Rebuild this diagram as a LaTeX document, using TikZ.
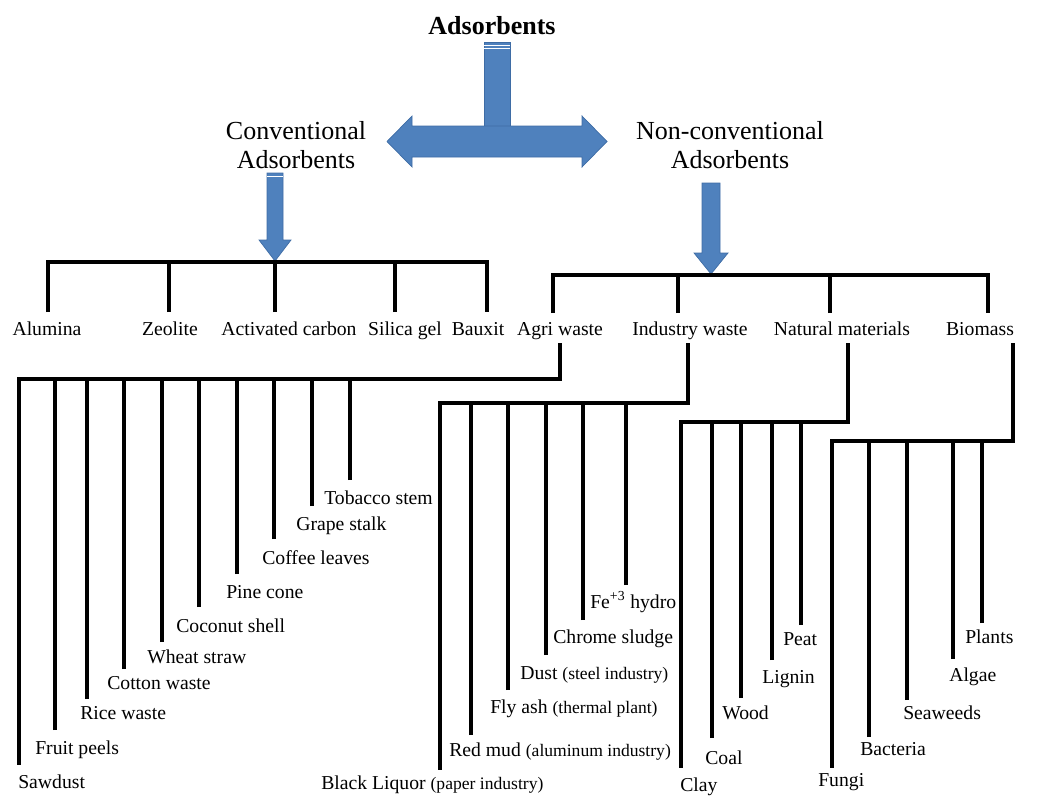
\documentclass[tikz,border=0pt]{standalone}
\usepackage{fontspec}
\setmainfont{Liberation Serif}
\usetikzlibrary{positioning}
\definecolor{arrowblue}{RGB}{79,129,189}
\definecolor{arrowedge}{RGB}{62,108,165}
\newcommand{\note}[1]{{\fontsize{12.5}{13}\selectfont(#1)}}
\tikzset{title/.style={font=\fontsize{18.5}{20}\selectfont\bfseries,inner sep=0pt}}
\tikzset{category/.style={font=\fontsize{18.5}{20.5}\selectfont,align=center,inner sep=0pt}}
\tikzset{group/.style={font=\fontsize{14}{16}\selectfont,anchor=base,inner sep=0pt}}
\tikzset{leaf/.style={font=\fontsize{14}{16}\selectfont,anchor=base west,inner sep=0pt}}
\tikzset{branch/.style={line width=2.4pt,black}}
\tikzset{blockarrow/.style={fill=arrowblue,draw=arrowedge,line width=0.5pt}}

\begin{document}
\begin{tikzpicture}[x=0.025cm,y=-0.025cm]
    \useasboundingbox (0,0) rectangle (1049,795);

    % top of the tree
    \node[title]    (adsorbents) at (492,26)  {Adsorbents};
    \node[category] (conv)       at (296,145) {Conventional\\Adsorbents};
    \node[category] (nonconv)    at (730,145) {Non-conventional\\Adsorbents};

    \filldraw[blockarrow] (484,42) rectangle (510,128);
    \draw[white,line width=0.6pt] (484,45) -- (510,45) (484,48) -- (510,48);
    \filldraw[blockarrow] (387,141.5) -- (412,116) -- (412,126) -- (582,126) -- (582,116) -- (607,141.5)
        -- (582,167) -- (582,157) -- (412,157) -- (412,167) -- cycle;
    \filldraw[blockarrow] (267,173) -- (283,173) -- (283,240) -- (291,240) -- (275,261) -- (259,240)
        -- (267,240) -- cycle;
    \draw[white,line width=0.6pt] (267,176) -- (283,176);
    \filldraw[blockarrow] (702,183) -- (720,183) -- (720,253) -- (728,253) -- (711,274) -- (694,253)
        -- (702,253) -- cycle;

    % conventional adsorbents
    \coordinate (conv-bar)      at (275,262);
    \coordinate (alumina-end)   at (48,312);
    \coordinate (zeolite-end)   at (169,312);
    \coordinate (carbon-end)    at (275,312);
    \coordinate (silica-end)    at (395,312);
    \coordinate (bauxit-end)    at (487,312);
    \draw[branch] (alumina-end) |- (bauxit-end |- conv-bar) -- (bauxit-end);
    \draw[branch] (zeolite-end) -- (zeolite-end |- conv-bar)
                  (carbon-end) -- (carbon-end |- conv-bar)
                  (silica-end) -- (silica-end |- conv-bar);

    \node[group] (alumina) at (47,335)  {Alumina};
    \node[group] (zeolite) at (170,335) {Zeolite};
    \node[group] (carbon)  at (289,335) {Activated carbon};
    \node[group] (silica)  at (405,335) {Silica gel};
    \node[group] (bauxit)  at (478,335) {Bauxit};

    % non-conventional adsorbents
    \coordinate (nonconv-bar)   at (711,275);
    \coordinate (agri-end)      at (553,313);
    \coordinate (industry-end)  at (678,313);
    \coordinate (natural-end)   at (830,313);
    \coordinate (biomass-end)   at (988,313);
    \draw[branch] (agri-end) |- (biomass-end |- nonconv-bar) -- (biomass-end);
    \draw[branch] (industry-end) -- (industry-end |- nonconv-bar)
                  (natural-end) -- (natural-end |- nonconv-bar);

    \node[group] (agri)     at (560,335) {Agri waste};
    \node[group] (industry) at (690,335) {Industry waste};
    \node[group] (natural)  at (842,335) {Natural materials};
    \node[group] (biomass)  at (980,335) {Biomass};

    % agri waste
    \coordinate (agri-low)      at (560,343);
    \coordinate (agri-bar)      at (560,379);
    \coordinate (sawdust-end)   at (19,765);
    \coordinate (fruit-end)     at (55,730);
    \coordinate (rice-end)      at (87,699);
    \coordinate (cotton-end)    at (124,669);
    \coordinate (wheat-end)     at (162,642);
    \coordinate (coconut-end)   at (199,607);
    \coordinate (pine-end)      at (237,574);
    \coordinate (coffee-end)    at (274,539);
    \coordinate (grape-end)     at (312,506);
    \coordinate (tobacco-end)   at (350,480);
    \draw[branch] (agri-low) -- (agri-bar) -| (sawdust-end);
    \draw[branch] (fruit-end) -- (fruit-end |- agri-bar)
                  (rice-end) -- (rice-end |- agri-bar)
                  (cotton-end) -- (cotton-end |- agri-bar)
                  (wheat-end) -- (wheat-end |- agri-bar)
                  (coconut-end) -- (coconut-end |- agri-bar)
                  (pine-end) -- (pine-end |- agri-bar)
                  (coffee-end) -- (coffee-end |- agri-bar)
                  (grape-end) -- (grape-end |- agri-bar)
                  (tobacco-end) -- (tobacco-end |- agri-bar);

    \node[leaf] (sawdust) at (18,788)  {Sawdust};
    \node[leaf] (fruit)   at (35,754)  {Fruit peels};
    \node[leaf] (rice)    at (80,719)  {Rice waste};
    \node[leaf] (cotton)  at (107,689) {Cotton waste};
    \node[leaf] (wheat)   at (147,663) {Wheat straw};
    \node[leaf] (coconut) at (176,632) {Coconut shell};
    \node[leaf] (pine)    at (226,598) {Pine cone};
    \node[leaf] (coffee)  at (262,564) {Coffee leaves};
    \node[leaf] (grape)   at (296,530) {Grape stalk};
    \node[leaf] (tobacco) at (324,504) {Tobacco stem};

    % industry waste
    \coordinate (industry-low)  at (688,343);
    \coordinate (industry-bar)  at (688,403);
    \coordinate (liquor-end)    at (440,770);
    \coordinate (redmud-end)    at (471,735);
    \coordinate (flyash-end)    at (508,690);
    \coordinate (dust-end)      at (546,655);
    \coordinate (chrome-end)    at (583,620);
    \coordinate (hydro-end)     at (626,585);
    \draw[branch] (industry-low) -- (industry-bar) -| (liquor-end);
    \draw[branch] (redmud-end) -- (redmud-end |- industry-bar)
                  (flyash-end) -- (flyash-end |- industry-bar)
                  (dust-end) -- (dust-end |- industry-bar)
                  (chrome-end) -- (chrome-end |- industry-bar)
                  (hydro-end) -- (hydro-end |- industry-bar);

    \node[leaf] (liquor) at (321,789) {Black Liquor \note{paper industry}};
    \node[leaf] (redmud) at (449,756) {Red mud \note{aluminum industry}};
    \node[leaf] (flyash) at (490,713) {Fly ash \note{thermal plant}};
    \node[leaf] (dust)   at (520,679) {Dust \note{steel industry}};
    \node[leaf] (chrome) at (553,643) {Chrome sludge};
    \node[leaf] (hydro)  at (590,608) {Fe\textsuperscript{+3} hydro};

    % natural materials
    \coordinate (natural-low)   at (848,343);
    \coordinate (natural-bar)   at (848,422);
    \coordinate (clay-end)      at (681,768);
    \coordinate (coal-end)      at (712,738);
    \coordinate (wood-end)      at (741,698);
    \coordinate (lignin-end)    at (772,660);
    \coordinate (peat-end)      at (801,625);
    \draw[branch] (natural-low) -- (natural-bar) -| (clay-end);
    \draw[branch] (coal-end) -- (coal-end |- natural-bar)
                  (wood-end) -- (wood-end |- natural-bar)
                  (lignin-end) -- (lignin-end |- natural-bar)
                  (peat-end) -- (peat-end |- natural-bar);

    \node[leaf] (clay)   at (680,791) {Clay};
    \node[leaf] (coal)   at (705,764) {Coal};
    \node[leaf] (wood)   at (722,719) {Wood};
    \node[leaf] (lignin) at (762,683) {Lignin};
    \node[leaf] (peat)   at (783,645) {Peat};

    % biomass
    \coordinate (biomass-low)   at (1013,343);
    \coordinate (biomass-bar)   at (1013,441);
    \coordinate (fungi-end)     at (832,768);
    \coordinate (bacteria-end)  at (869,737);
    \coordinate (seaweeds-end)  at (907,700);
    \coordinate (algae-end)     at (953,659);
    \coordinate (plants-end)    at (982,623);
    \draw[branch] (biomass-low) -- (biomass-bar) -| (fungi-end);
    \draw[branch] (bacteria-end) -- (bacteria-end |- biomass-bar)
                  (seaweeds-end) -- (seaweeds-end |- biomass-bar)
                  (algae-end) -- (algae-end |- biomass-bar)
                  (plants-end) -- (plants-end |- biomass-bar);

    \node[leaf] (fungi)    at (818,786) {Fungi};
    \node[leaf] (bacteria) at (860,755) {Bacteria};
    \node[leaf] (seaweeds) at (903,719) {Seaweeds};
    \node[leaf] (algae)    at (949,681) {Algae};
    \node[leaf] (plants)   at (965,643) {Plants};
\end{tikzpicture}
\end{document}
